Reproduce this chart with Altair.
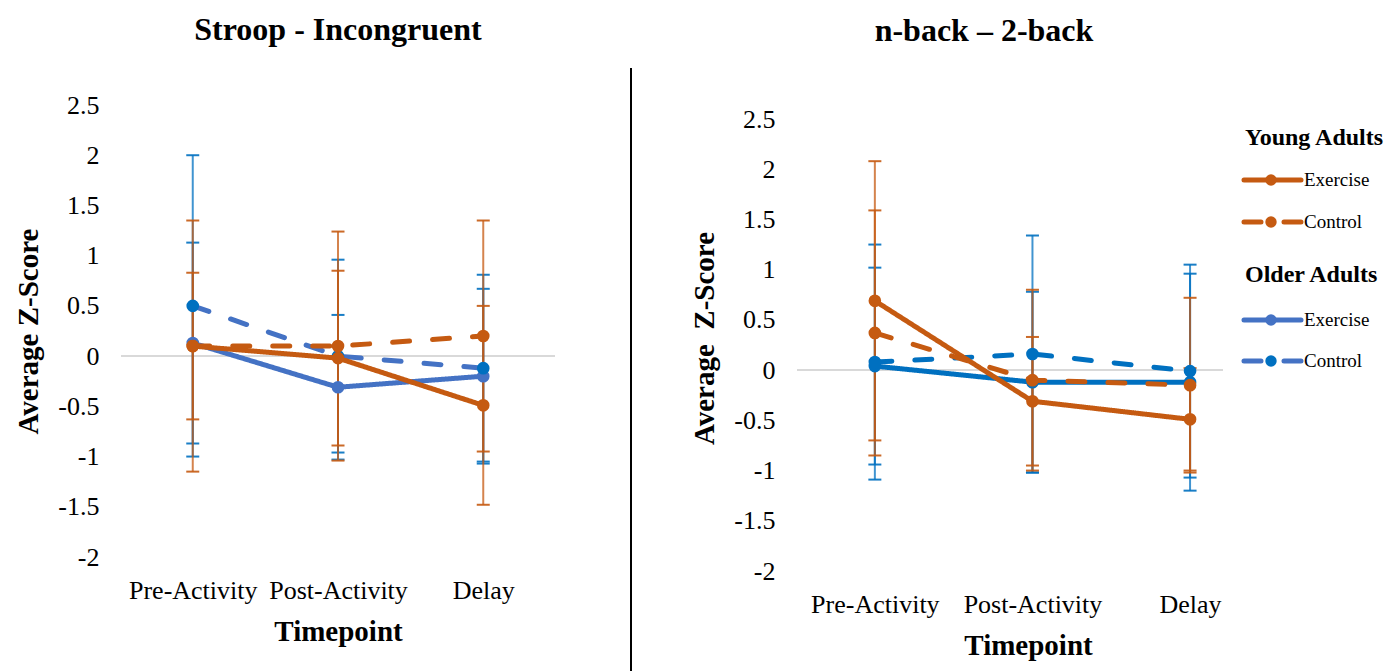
import json
import altair as alt
import pandas as pd

# ---------------- data ----------------
timepoints = ["Pre-Activity", "Post-Activity", "Delay"]
series_names = ["Older Exercise", "Older Control", "Young Exercise", "Young Control"]

# Stroop - Incongruent
stroop_young_ex_mean = [0.10, -0.02, -0.49]
stroop_young_ex_err = [1.25, 0.87, 0.99]
stroop_young_ct_mean = [0.10, 0.10, 0.20]
stroop_young_ct_err = [0.73, 1.14, 1.15]
stroop_older_ex_mean = [0.13, -0.31, -0.20]
stroop_older_ex_err = [1.00, 0.72, 0.87]
stroop_older_ct_mean = [0.50, 0.00, -0.12]
stroop_older_ct_err = [1.50, 0.96, 0.93]

# n-back - 2-back
nback_young_ex_mean = [0.69, -0.31, -0.49]
nback_young_ex_err = [1.39, 0.64, 0.51]
nback_young_ct_mean = [0.37, -0.10, -0.15]
nback_young_ct_err = [1.22, 0.90, 0.87]
nback_older_ex_mean = [0.04, -0.12, -0.12]
nback_older_ex_err = [0.98, 0.90, 1.08]
nback_older_ct_mean = [0.08, 0.16, -0.01]
nback_older_ct_err = [1.17, 1.18, 1.06]

y_ticks = [-2, -1.5, -1, -0.5, 0, 0.5, 1, 1.5, 2, 2.5]

legend_groups = ["Young Adults", "Older Adults"]
legend_items = ["Exercise", "Control"]

# ---------------- style ----------------
FONT = "Liberation Serif"
ORANGE = "#C55A11"
BLUE_L = "#4472C4"
BLUE_D = "#0070C0"
DASH = [17, 23]
SOLID = [1, 0]


def series_frame(mean, err):
    return pd.DataFrame({
        "t": list(range(len(mean))),
        "mean": mean,
        "lo": [m - e for m, e in zip(mean, err)],
        "hi": [m + e for m, e in zip(mean, err)],
    })


def panel(series, width, xdom, ydom, ytitle, xtitle_x=None):
    xs = alt.Scale(domain=xdom, nice=False, zero=False)
    ys = alt.Scale(domain=ydom, nice=False, zero=False)
    label_expr = json.dumps(timepoints) + "[datum.value]"
    xaxis_kw = dict(values=[0, 1, 2], labelExpr=label_expr, grid=False, domain=False,
                    ticks=False, labelFont=FONT, labelFontSize=26, labelColor="black",
                    labelPadding=20, labelOverlap=False, labelFlush=False,
                    titleFont=FONT, titleFontSize=29, titleFontWeight="bold",
                    titleColor="black", titlePadding=14)
    if xtitle_x is not None:
        xaxis_kw["titleX"] = xtitle_x
    xaxis = alt.Axis(**xaxis_kw)
    yaxis = alt.Axis(values=y_ticks, labelExpr="toString(datum.value)", grid=False,
                     domain=False, ticks=False, labelFont=FONT, labelFontSize=26,
                     labelColor="black", labelPadding=22, titleFont=FONT,
                     titleFontSize=29, titleFontWeight="bold", titleColor="black",
                     titlePadding=14)

    def X(f):
        return alt.X(f, scale=xs, axis=xaxis, title="Timepoint")

    def Y(f):
        return alt.Y(f, scale=ys, axis=yaxis, title=ytitle)

    layers = []
    zero = alt.Chart(pd.DataFrame({"z": [0.0]})).mark_rule(
        color="#D9D9D9", strokeWidth=2).encode(y=Y("z:Q"))
    layers.append(zero)

    # error bars
    for s in series:
        base = alt.Chart(s["df"])
        layers.append(base.mark_rule(color=s["ecolor"], strokeWidth=2, opacity=0.75)
                      .encode(x=X("t:Q"), y=Y("lo:Q"), y2="hi:Q"))
        for f in ("lo:Q", "hi:Q"):
            layers.append(base.mark_tick(color=s["ecolor"], orient="horizontal", size=13,
                                         thickness=2, opacity=0.9)
                          .encode(x=X("t:Q"), y=Y(f)))
    # lines and markers
    for s in series:
        base = alt.Chart(s["df"])
        layers.append(base.mark_line(color=s["lcolor"], strokeWidth=5,
                                     strokeDash=s["dash"], strokeCap="round",
                                     strokeJoin="round")
                      .encode(x=X("t:Q"), y=Y("mean:Q")))
        layers.append(base.mark_circle(color=s["mcolor"], size=160, opacity=1)
                      .encode(x=X("t:Q"), y=Y("mean:Q")))
    return layers


def make_series(ym, ye, cm, ce, om, oe, pm, pe, older_line, older_ex_marker, older_ct_marker):
    return [
        dict(df=series_frame(om, oe), ecolor=BLUE_D, lcolor=older_line,
             mcolor=older_ex_marker, dash=SOLID),
        dict(df=series_frame(pm, pe), ecolor=BLUE_D, lcolor=older_line,
             mcolor=older_ct_marker, dash=DASH),
        dict(df=series_frame(ym, ye), ecolor=ORANGE, lcolor=ORANGE,
             mcolor=ORANGE, dash=SOLID),
        dict(df=series_frame(cm, ce), ecolor=ORANGE, lcolor=ORANGE,
             mcolor=ORANGE, dash=DASH),
    ]


left_series = make_series(stroop_young_ex_mean, stroop_young_ex_err,
                          stroop_young_ct_mean, stroop_young_ct_err,
                          stroop_older_ex_mean, stroop_older_ex_err,
                          stroop_older_ct_mean, stroop_older_ct_err,
                          BLUE_L, BLUE_L, BLUE_D)
right_series = make_series(nback_young_ex_mean, nback_young_ex_err,
                           nback_young_ct_mean, nback_young_ct_err,
                           nback_older_ex_mean, nback_older_ex_err,
                           nback_older_ct_mean, nback_older_ct_err,
                           BLUE_D, BLUE_D, BLUE_D)

LEFT_H = 452
RIGHT_H = 466  # right panel sits 14px lower; extend its scale upward
PX_PER_UNIT = LEFT_H / 4.5

left_layers = panel(left_series, 434, [-0.494, 2.494], [-2, 2.5], "Average Z-Score")
right_layers = panel(right_series, 426, [-0.494, 2.209],
                     [-2, -2 + RIGHT_H / PX_PER_UNIT], "Average\u00a0 Z-Score",
                     xtitle_x=231)

# vertical separator between panels (decoration)
sep = alt.Chart(pd.DataFrame({"a": [0]})).mark_rule(color="black", strokeWidth=2).encode(
    x=alt.value(510), y=alt.value(-37), y2=alt.value(570))
left_layers.append(sep)

# ---------------- custom legend (decoration, pixel layout) ----------------
LEG_X_TEXT_HDR = 448
LEG_LINE_X0, LEG_LINE_X1, LEG_MARK_X, LEG_TEXT_X = 447, 504, 474, 507
hdr_y = [33, 170]
item_y = [[75, 117], [215, 256]]
leg_line_colors = [[ORANGE, ORANGE], [BLUE_L, BLUE_L]]
leg_mark_colors = [[ORANGE, ORANGE], [BLUE_L, BLUE_D]]
leg_dash = [SOLID, DASH]

for gi, g in enumerate(legend_groups):
    right_layers.append(
        alt.Chart(pd.DataFrame({"a": [0]})).mark_text(
            text=g, font=FONT, fontSize=24, fontWeight="bold", align="left",
            baseline="middle", color="black").encode(
            x=alt.value(LEG_X_TEXT_HDR), y=alt.value(hdr_y[gi])))
    for ii, it in enumerate(legend_items):
        yy = item_y[gi][ii]
        right_layers.append(
            alt.Chart(pd.DataFrame({"a": [0]})).mark_rule(
                color=leg_line_colors[gi][ii], strokeWidth=5, strokeCap="round",
                strokeDash=leg_dash[ii]).encode(
                x=alt.value(LEG_LINE_X0), x2=alt.value(LEG_LINE_X1), y=alt.value(yy)))
        right_layers.append(
            alt.Chart(pd.DataFrame({"a": [0]})).mark_circle(
                color=leg_mark_colors[gi][ii], size=130, opacity=1).encode(
                x=alt.value(LEG_MARK_X), y=alt.value(yy)))
        right_layers.append(
            alt.Chart(pd.DataFrame({"a": [0]})).mark_text(
                text=it, font=FONT, fontSize=19, align="left", baseline="middle",
                color="black").encode(x=alt.value(LEG_TEXT_X), y=alt.value(yy)))

left = alt.layer(*left_layers).properties(
    width=434, height=LEFT_H,
    title=alt.TitleParams("Stroop - Incongruent", font=FONT, fontSize=32,
                          fontWeight="bold", color="black", anchor="middle",
                          frame="group", offset=20))
right = alt.layer(*right_layers).properties(
    width=426, height=RIGHT_H,
    title=alt.TitleParams("n-back \u2013 2-back", font=FONT, fontSize=32,
                          fontWeight="bold", color="black", anchor="middle",
                          frame="group", offset=57, dx=-26))

chart = alt.hconcat(left, right, spacing=58).properties(
    padding={"left": 14, "top": 14, "right": 0, "bottom": 0},
    background="white",
).configure_view(stroke=None)

chart.save("out.html", embed_options={"renderer": "svg", "actions": False})
